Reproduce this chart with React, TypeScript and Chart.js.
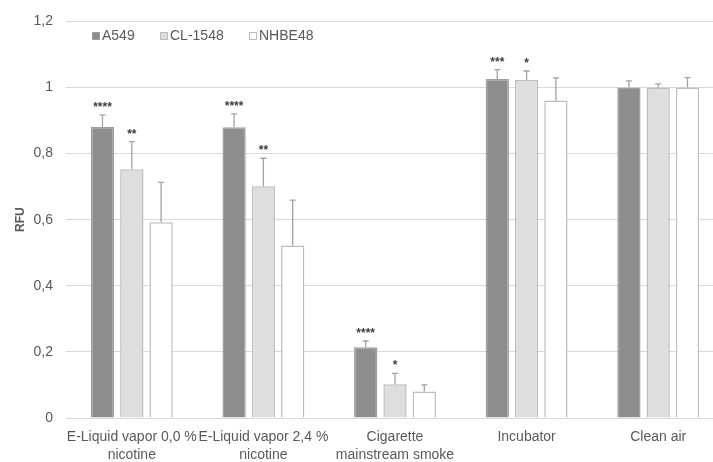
import React, { useEffect, useRef } from "react";
import { Chart, registerables } from "chart.js";

Chart.register(...registerables);

const categories: string[][] = [
  ["E-Liquid vapor 0,0 %", "nicotine"],
  ["E-Liquid vapor 2,4 %", "nicotine"],
  ["Cigarette", "mainstream smoke"],
  ["Incubator"],
  ["Clean air"],
];
const seriesNames = ["A549", "CL-1548", "NHBE48"];
const a549 = [0.881, 0.88, 0.214, 1.026, 1.0];
const cl1548 = [0.753, 0.701, 0.102, 1.023, 1.0];
const nhbe48 = [0.592, 0.522, 0.08, 0.961, 1.0];
const a549Err = [0.036, 0.04, 0.019, 0.028, 0.02];
const cl1548Err = [0.083, 0.085, 0.033, 0.027, 0.011];
const nhbe48Err = [0.121, 0.137, 0.02, 0.068, 0.03];
const a549Sig = ["****", "****", "****", "***", ""];
const cl1548Sig = ["**", "**", "*", "*", ""];
const nhbe48Sig = ["", "", "", "", ""];
const yTicks = [0, 0.2, 0.4, 0.6, 0.8, 1, 1.2];

const fills = ["#8e8e8e", "#dedede", "#ffffff"];
const borders = ["#9f9f9f", "#bdbdbd", "#bdbdbd"];
const errs = [a549Err, cl1548Err, nhbe48Err];
const sigs = [a549Sig, cl1548Sig, nhbe48Sig];

const extrasPlugin = {
  id: "extras",
  afterDatasetsDraw(chart: any) {
    const ctx = chart.ctx;
    const y = chart.scales.y;
    chart.data.datasets.forEach((ds: any, di: number) => {
      const meta = chart.getDatasetMeta(di);
      meta.data.forEach((bar: any, i: number) => {
        const v = ds.data[i];
        const top = y.getPixelForValue(v + errs[di][i]);
        const base = y.getPixelForValue(v);
        ctx.save();
        ctx.strokeStyle = "#a3a3a3";
        ctx.lineWidth = 1.3;
        ctx.beginPath();
        ctx.moveTo(bar.x, base);
        ctx.lineTo(bar.x, top);
        ctx.moveTo(bar.x - 3, top);
        ctx.lineTo(bar.x + 3, top);
        ctx.stroke();
        const s = sigs[di][i];
        if (s) {
          ctx.fillStyle = "#404040";
          ctx.font = "bold 12px 'Liberation Sans', Arial, sans-serif";
          ctx.textAlign = "center";
          ctx.textBaseline = "alphabetic";
          ctx.fillText(s, bar.x, top - 4);
        }
        ctx.restore();
      });
    });
  },
  afterDraw(chart: any) {
    const ctx = chart.ctx;
    const xs = [92, 160, 249];
    ctx.save();
    ctx.font = "14px 'Liberation Sans', Arial, sans-serif";
    ctx.textBaseline = "middle";
    ctx.textAlign = "left";
    seriesNames.forEach((name, i) => {
      ctx.fillStyle = fills[i];
      ctx.fillRect(xs[i] + 0.5, 32.5, 7, 7);
      ctx.strokeStyle = borders[i];
      ctx.lineWidth = 1;
      ctx.strokeRect(xs[i] + 0.5, 32.5, 7, 7);
      ctx.fillStyle = "#595959";
      ctx.fillText(name, xs[i] + 10, 36.5);
    });
    ctx.restore();
  },
};

export default function App() {
  const ref = useRef<HTMLCanvasElement | null>(null);
  useEffect(() => {
    document.body.style.margin = "0";
    if (!ref.current) return;
    const chart = new Chart(ref.current, {
      type: "bar",
      data: {
        labels: categories,
        datasets: [a549, cl1548, nhbe48].map((d, i) => ({
          label: seriesNames[i],
          data: d,
          backgroundColor: fills[i],
          borderColor: borders[i],
          borderWidth: 1.5,
          barPercentage: 0.795,
          categoryPercentage: 0.668,
        })),
      },
      options: {
        responsive: false,
        animation: false,
        devicePixelRatio: 1,
        layout: { padding: { top: 17, right: 0, left: 0, bottom: 0 } },
        plugins: { legend: { display: false }, tooltip: { enabled: false } },
        scales: {
          x: {
            grid: { display: false, drawTicks: false },
            border: { display: true, color: "#d9d9d9" },
            ticks: {
              color: "#595959",
              font: { size: 14, family: "'Liberation Sans', Arial, sans-serif", lineHeight: 1.3 },
              padding: 10,
              maxRotation: 0,
              minRotation: 0,
              autoSkip: false,
            },
            afterFit: (s: any) => {
              s.height = 44;
            },
          },
          y: {
            min: 0,
            max: 1.2,
            afterBuildTicks: (s: any) => {
              s.ticks = yTicks.map((v) => ({ value: v }));
            },
            grid: { color: "#d9d9d9", drawTicks: false, lineWidth: 1 },
            border: { display: false },
            ticks: {
              color: "#595959",
              font: { size: 14, family: "'Liberation Sans', Arial, sans-serif" },
              padding: 13,
              callback: (v: any) => String(Math.round(Number(v) * 10) / 10).replace(".", ","),
            },
            title: {
              display: true,
              text: "RFU",
              color: "#595959",
              font: { size: 12, weight: "bold", family: "'Liberation Sans', Arial, sans-serif" },
              padding: { top: 13, bottom: 0 },
            },
            afterFit: (s: any) => {
              s.width = 66;
            },
          },
        },
      },
      plugins: [extrasPlugin],
    });
    return () => chart.destroy();
  }, []);
  return (
    <div style={{ width: 713, height: 462, overflow: "hidden", position: "relative", background: "#fff" }}>
      <canvas ref={ref} width={724} height={462} style={{ display: "block" }} />
    </div>
  );
}
